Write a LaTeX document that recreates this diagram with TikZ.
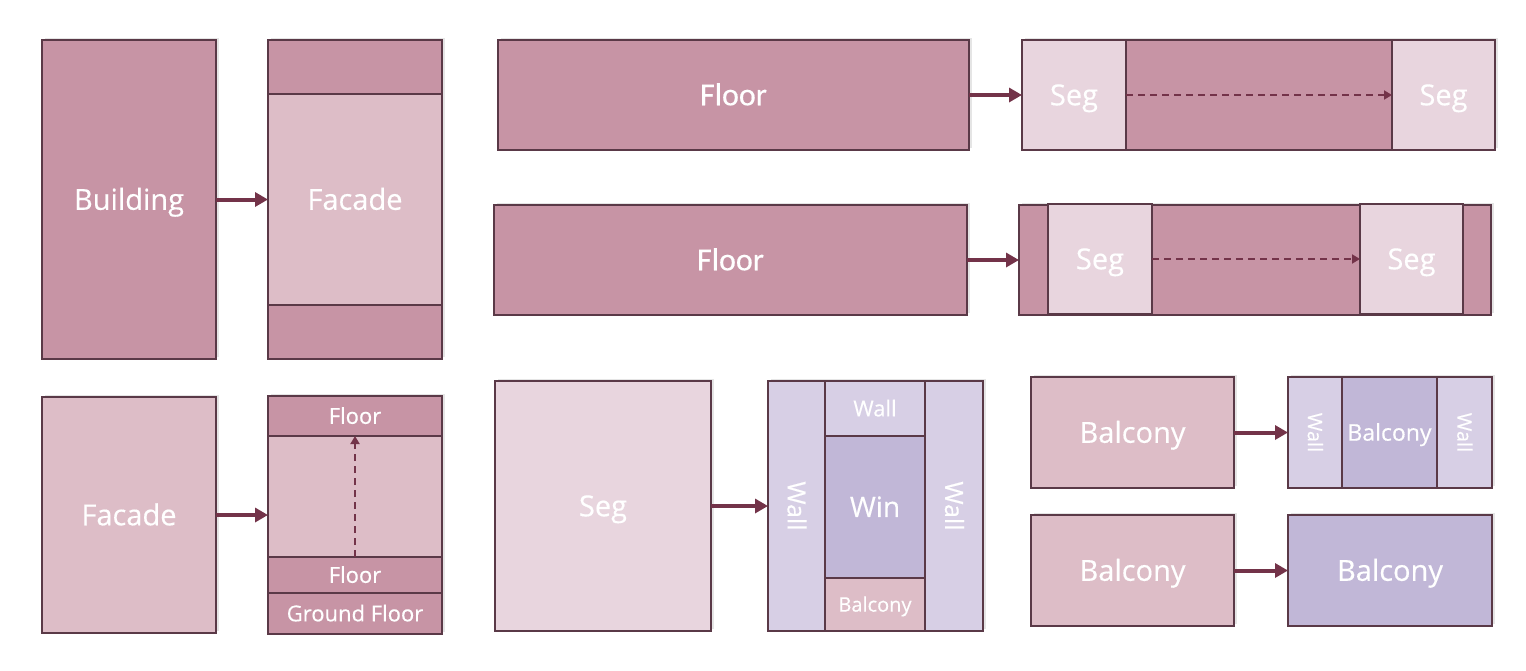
\documentclass[tikz,border=0pt]{standalone}
\usepackage{fontspec}
\setmainfont{Open Sans}[FakeBold=0.4]
\newfontfamily\calfont{Carlito}[FakeBold=0.4]
\usetikzlibrary{arrows.meta,shadows}
\definecolor{dk}{HTML}{C794A5}
\definecolor{lt}{HTML}{DDBDC7}
\definecolor{sg}{HTML}{E8D5DE}
\definecolor{wl}{HTML}{D7CFE5}
\definecolor{wn}{HTML}{C1B7D7}
\definecolor{bd}{HTML}{5A3947}
\definecolor{ar}{HTML}{733349}
\newcommand\bx[7]{\node[part,fill=#6,minimum width={(#4-#2)*1pt},minimum height={(#5-#3)*1pt}] (#1) at ({(#2+#4)/2},{(#3+#5)/2}) {#7};}
\tikzset{
  lbl/.style={text=white,text height={0.71*#1pt},text depth=0pt,inner sep=0pt,font=\fontsize{#1}{#1}\selectfont},
  part/.style={draw=bd,line width=2pt,inner sep=0pt,outer sep=0pt,lbl=29},
  flr/.style={text height=20.6pt,font=\calfont\fontsize{32}{33}\selectfont},
  shad/.style={drop shadow={shadow xshift=2.5pt,shadow yshift=2.5pt,opacity=0.2}},
  bigarrow/.style={draw=ar,line width=4pt,-{Triangle[length=13pt,width=14pt]}},
  dasharrow/.style={draw=ar,line width=1.8pt,dash pattern=on 7pt off 5pt,-{Triangle[length=8pt,width=9pt]}},
  small/.style={lbl=#1},
}
\begin{document}
\begin{tikzpicture}[x=1pt,y=-1pt]
\useasboundingbox[fill=white] (0,0) rectangle (1526,670);
% Building -> Facade
\node[part,shad,fill=dk,minimum width=174pt,minimum height=319pt] (bld) at (129,199.5) {Building};
\node[part,shad,fill=dk,minimum width=174pt,minimum height=319pt] (fcout) at (355,199.5) {};
\bx{fctop}{268}{40}{442}{94}{dk}{}
\bx{fcmid}{268}{94}{442}{305}{lt}{Facade}
\bx{fcbot}{268}{305}{442}{359}{dk}{}
\draw[bigarrow] (bld.east) -- (fcout.west);
% Floor row 1
\node[part,shad,fill=dk,minimum width=471pt,minimum height=110pt,flr] (fl1) at (733.5,95) {Floor};
\node[part,shad,fill=dk,minimum width=473pt,minimum height=110pt] (r1) at (1258.5,95) {};
\bx{s1a}{1022}{40}{1126}{150}{sg}{Seg}
\bx{s1b}{1392}{40}{1495}{150}{sg}{Seg}
\draw[bigarrow] (fl1.east) -- (r1.west);
\draw[dasharrow] (s1a.east) -- (s1b.west);
% Floor row 2
\node[part,shad,fill=dk,minimum width=473pt,minimum height=110pt,flr] (fl2) at (730.5,260) {Floor};
\node[part,shad,fill=dk,minimum width=472pt,minimum height=110pt] (r2) at (1255,260) {};
\bx{s2a}{1048}{204}{1152}{314}{sg}{Seg}
\bx{s2b}{1360}{204}{1463}{314}{sg}{Seg}
\draw[bigarrow] (fl2.east) -- (r2.west);
\draw[dasharrow] (s2a.east) -- (s2b.west);
% Facade -> floors
\node[part,shad,fill=lt,minimum width=174pt,minimum height=236pt] (fc2) at (129,515) {Facade};
\node[part,shad,fill=lt,minimum width=174pt,minimum height=238pt] (stk) at (355,515) {};
\bx{ftop}{268}{396}{442}{436}{dk}{}
\bx{flow}{268}{557}{442}{593}{dk}{}
\bx{fgnd}{268}{593}{442}{634}{dk}{}
\node[small=22] at (ftop) {Floor};
\node[small=22] at (flow) {Floor};
\node[small=22] at (fgnd) {Ground Floor};
\draw[bigarrow] (fc2.east) -- (stk.west);
\draw[dasharrow] (flow.north) -- (ftop.south);
% Seg -> window
\node[part,shad,fill=sg,minimum width=216pt,minimum height=250pt] (seg) at (603,506) {Seg};
\node[part,shad,fill=wl,minimum width=215pt,minimum height=250pt] (wg) at (875.5,506) {};
\bx{wll}{768}{381}{825}{631}{wl}{}
\bx{wlr}{925}{381}{983}{631}{wl}{}
\bx{wlt}{825}{381}{925}{436}{wl}{}
\bx{win}{825}{436}{925}{578}{wn}{}
\bx{wbal}{825}{578}{925}{631}{lt}{}
\node[small=25,rotate=-90] at (wll) {Wall};
\node[small=25,rotate=-90] at (wlr) {Wall};
\node[small=22] at (wlt) {Wall};
\node[small=28] at (win) {Win};
\node[small=20] at (wbal) {Balcony};
\draw[bigarrow] (seg.east) -- (wg.west);
% Balcony rows
\node[part,shad,fill=lt,minimum width=203pt,minimum height=111pt] (b1) at (1132.5,432.5) {Balcony};
\node[part,shad,fill=wl,minimum width=204pt,minimum height=111pt] (bg) at (1390,432.5) {};
\bx{bwl}{1288}{377}{1342}{488}{wl}{}
\bx{bmid}{1342}{377}{1437}{488}{wn}{}
\bx{bwr}{1437}{377}{1492}{488}{wl}{}
\node[small=20,rotate=-90] at (bwl) {Wall};
\node[small=20,rotate=-90] at (bwr) {Wall};
\node[small=23] at (bmid) {Balcony};
\draw[bigarrow] (b1.east) -- (bg.west);
\node[part,shad,fill=lt,minimum width=203pt,minimum height=111pt] (b2) at (1132.5,570.5) {Balcony};
\node[part,shad,fill=wn,minimum width=204pt,minimum height=111pt] (b3) at (1390,570.5) {Balcony};
\draw[bigarrow] (b2.east) -- (b3.west);
\end{tikzpicture}
\end{document}
